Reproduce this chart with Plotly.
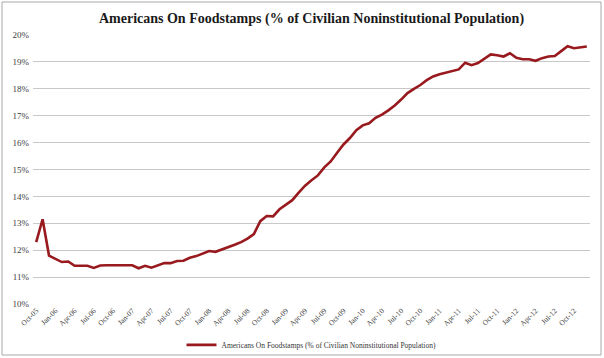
import plotly.graph_objects as go

# ---- data ----
months = []
mnames = ["Jan", "Feb", "Mar", "Apr", "May", "Jun", "Jul", "Aug", "Sep", "Oct", "Nov", "Dec"]
for k in range(87):
    m = (9 + k) % 12
    y = 5 + (9 + k) // 12
    months.append(f"{mnames[m]}-{y:02d}")

foodstamps_pct = [
    12.30, 13.15, 11.80, 11.67, 11.56, 11.58, 11.42, 11.42, 11.42, 11.34,
    11.43, 11.44, 11.44, 11.45, 11.46, 11.44, 11.33, 11.42, 11.35, 11.44,
    11.52, 11.52, 11.60, 11.61, 11.72, 11.78, 11.88, 11.97, 11.94, 12.02,
    12.10, 12.20, 12.30, 12.43, 12.60, 13.08, 13.27, 13.26, 13.52, 13.68,
    13.86, 14.14, 14.40, 14.60, 14.78, 15.08, 15.30, 15.62, 15.93, 16.17,
    16.46, 16.64, 16.72, 16.92, 17.04, 17.20, 17.38, 17.60, 17.84, 18.00,
    18.14, 18.32, 18.46, 18.54, 18.60, 18.68, 18.72, 18.97, 18.88, 18.96,
    19.12, 19.28, 19.25, 19.20, 19.32, 19.15, 19.10, 19.10, 19.04, 19.14,
    19.20, 19.22, 19.40, 19.58, 19.51, 19.54, 19.57,
]
tick_labels = months[::3]
y_ticks = [10, 11, 12, 13, 14, 15, 16, 17, 18, 19, 20]
y_tick_text = [f"{v}%" for v in y_ticks]
series_name = "Americans On Foodstamps (% of Civilian Noninstitutional Population)"
title_text = "Americans On Foodstamps (% of Civilian Noninstitutional Population)"

SERIF = "Liberation Serif, Times New Roman, serif"

fig = go.Figure()
fig.add_trace(go.Scatter(
    x=months, y=foodstamps_pct, mode="lines", name=series_name,
    line=dict(color="#981A1E", width=2.6),
))

fig.update_layout(
    width=604, height=358,
    margin=dict(l=33, r=14, t=35, b=54, autoexpand=False),
    paper_bgcolor="white", plot_bgcolor="white",
    title=dict(text=title_text, x=0.5, xref="paper", xanchor="center",
               y=1 - 18 / 358, yanchor="middle",
               font=dict(family=SERIF, size=14, color="#1a1a1a", weight="bold")),
    showlegend=True,
    legend=dict(orientation="h", x=0.5, xanchor="center", y=-0.152, yanchor="middle",
                font=dict(family=SERIF, size=7.5, color="#333333"),
                itemwidth=30, bgcolor="rgba(0,0,0,0)"),
    xaxis=dict(type="category", categoryorder="array", categoryarray=months,
               range=[-0.5, 86.5], tickmode="array", tickvals=tick_labels, ticktext=tick_labels,
               tickangle=-45, tickfont=dict(family=SERIF, size=7.5, color="#404040"),
               showgrid=False, showline=False, ticks="", zeroline=False, fixedrange=True,
               automargin=False),
    yaxis=dict(range=[10, 20], tickmode="array", tickvals=y_ticks, ticktext=y_tick_text,
               tickfont=dict(family=SERIF, size=9, color="#404040"),
               showgrid=True, gridcolor="#c8c8c8", gridwidth=1, ticklabelstandoff=3,
               showline=False, ticks="", zeroline=False, fixedrange=True,
               automargin=False),
    shapes=[
        dict(type="rect", xref="paper", yref="paper",
             x0=(2 - 33) / 557, x1=(601 - 33) / 557,
             y0=(304 - 355) / 269, y1=(304 - 2) / 269,
             line=dict(color="#a8a8a8", width=1), fillcolor="rgba(0,0,0,0)", layer="below"),
    ],
)

fig.write_html(
    "out.html",
    config={"displayModeBar": False},
    post_script="document.body.style.margin='0';document.body.style.overflow='hidden';",
)
